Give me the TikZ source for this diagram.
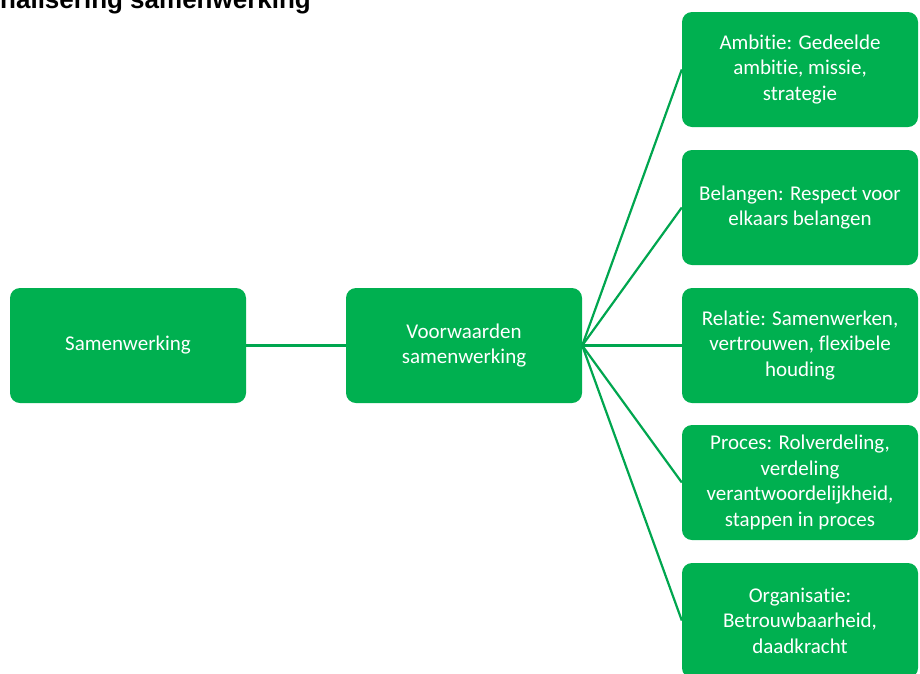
\documentclass[tikz,border=0pt]{standalone}
\usepackage{fontspec}
\setmainfont{Carlito}[Ligatures={NoCommon}]
\newfontfamily\titlefont{Liberation Sans}
\definecolor{boxgreen}{HTML}{00B050}
\definecolor{linegreen}{HTML}{00A64F}
\tikzset{
  gbox/.style={draw=none, fill=boxgreen, rounded corners=10pt, minimum width=236pt, minimum height=115pt,
    text=white, align=center, inner sep=3pt, font=\fontsize{21}{25.5}\selectfont},
  conn/.style={draw=linegreen, line width=2.2pt}
}
\begin{document}
\begin{tikzpicture}[x=1pt,y=-1pt]
\useasboundingbox (0,0) rectangle (920,673);
\clip (0,0) rectangle (920,673);
\fill[white] (0,0) rectangle (920,673);
\node[anchor=base west, inner sep=0pt, font=\titlefont\bfseries\fontsize{26}{30}\selectfont] (title) at (0,8) {nalisering samenwerking};
\node[gbox] (sam) at (128,345.5) {Samenwerking};
\node[gbox] (voor) at (464,345.5) {Voorwaarden\\samenwerking};
\node[gbox] (amb) at (800,69.5) {Ambitie: Gedeelde\\ambitie, missie,\\strategie};
\node[gbox] (bel) at (800,207.5) {Belangen: Respect voor\\elkaars belangen};
\node[gbox] (rel) at (800,345.5) {Relatie: Samenwerken,\\vertrouwen, flexibele\\houding};
\node[gbox] (pro) at (800,482.5) {Proces: Rolverdeling,\\verdeling\\verantwoordelijkheid,\\stappen in proces};
\node[gbox] (org) at (800,620.5) {Organisatie:\\Betrouwbaarheid,\\daadkracht};
\draw[conn] (sam.east) -- (voor.west);
\foreach \t in {amb,bel,rel,pro,org} {
  \draw[conn] (voor.east) -- (\t.west);
}
\end{tikzpicture}
\end{document}
